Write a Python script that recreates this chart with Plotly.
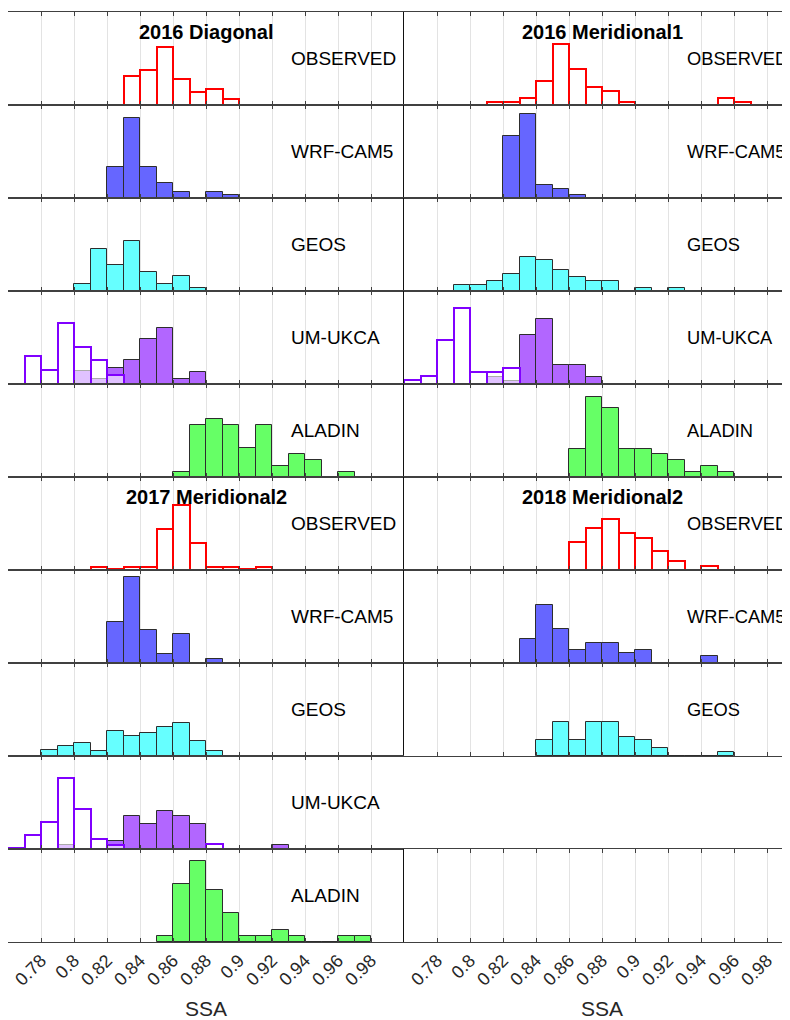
import plotly.graph_objects as go
from plotly.subplots import make_subplots

# SSA histograms, 0.01 wide bins. Each series: (left edge of first bin, bar heights in %)
BIN_WIDTH = 0.01

OBS_2016_DIAG = (0.83, [15.4, 19.0, 31.3, 14.0, 7.2, 8.4, 3.2])
WRF_2016_DIAG = (0.82, [16.5, 43.0, 16.5, 8.2, 3.1, 0, 3.1, 1.6])
GEOS_2016_DIAG = (0.80, [4.0, 22.4, 14.2, 26.7, 10.4, 4.0, 8.1, 1.8])
UMH_2016_DIAG = (0.77, [15.1, 7.5, 32.8, 20.1, 12.9, 5.0])
UMF_2016_DIAG = (0.80, [6.8, 2.5, 8.8, 12.9, 24.0, 30.3, 2.5, 6.5])
ALADIN_2016_DIAG = (0.86, [2.9, 28.0, 31.4, 28.0, 15.4, 28.0, 5.9, 12.2, 9.0, 0, 2.9])

OBS_2016_MER1 = (0.81, [1.8, 1.8, 3.6, 13.1, 32.6, 19.2, 9.5, 7.7, 1.8, 0, 0, 0, 0, 0, 3.6, 1.8])
WRF_2016_MER1 = (0.82, [33.2, 45.3, 7.2, 5.0, 1.4])
GEOS_2016_MER1 = (0.79, [3.4, 3.4, 5.6, 9.3, 18.5, 16.8, 11.1, 7.3, 5.6, 5.6, 0, 1.8, 0, 1.8])
UMH_2016_MER1 = (0.76, [2.3, 4.3, 23.7, 40.7, 6.6, 6.6, 8.6])
UMF_2016_MER1 = (0.81, [3.9, 1.8, 26.5, 34.9, 10.0, 10.0, 3.6])
ALADIN_2016_MER1 = (0.86, [15.2, 42.8, 36.9, 15.2, 15.2, 12.2, 9.0, 2.9, 5.9, 2.9])

OBS_2017_MER2 = (0.81, [1.8, 0.5, 1.8, 1.8, 22.2, 34.8, 14.5, 1.8, 1.8, 0.5, 1.8])
WRF_2017_MER2 = (0.82, [22.2, 46.2, 17.7, 4.7, 15.4, 0, 2.2])
GEOS_2017_MER2 = (0.78, [3.2, 5.4, 7.0, 2.7, 13.4, 10.8, 12.4, 15.6, 17.7, 8.1, 2.7])
UMH_2017_MER2 = (0.76, [0.3, 7.3, 14.5, 38.2, 21.5, 5.2, 2.2, 0, 0, 0, 0, 0, 2.7])
UMF_2017_MER2 = (0.79, [2.2, 0, 0, 4.5, 17.9, 13.6, 20.3, 17.9, 13.6, 0, 0, 0, 0, 2.2])
ALADIN_2017_MER2 = (0.85, [3.4, 31.4, 43.7, 28.1, 15.8, 3.4, 3.4, 6.3, 3.4, 0, 0, 3.4, 3.4])

OBS_2018_MER2 = (0.86, [15.1, 22.4, 27.2, 20.1, 17.2, 10.0, 5.0, 0, 2.3, 0, 0, 0, 0, 2.3])
WRF_2018_MER2 = (0.83, [12.7, 31.2, 18.3, 7.2, 10.9, 10.9, 5.6, 7.2, 0, 0, 0, 3.9])
GEOS_2018_MER2 = (0.84, [8.4, 18.1, 8.4, 18.1, 18.1, 10.2, 8.4, 4.3, 0, 0, 0, 2.3])

CAMPAIGNS = ["2016 Diagonal", "2016 Meridional1", "2017 Meridional2", "2018 Meridional2"]
MODELS = ["OBSERVED", "WRF-CAM5", "GEOS", "UM-UKCA", "ALADIN"]

TICKS = [0.78, 0.8, 0.82, 0.84, 0.86, 0.88, 0.9, 0.92, 0.94, 0.96, 0.98]
TICK_LABELS = ["0.78", "0.8", "0.82", "0.84", "0.86", "0.88", "0.9", "0.92", "0.94", "0.96", "0.98"]

# (row, col) -> list of (series, style)
PANELS = {
    (1, 1): [(OBS_2016_DIAG, "obs")],
    (2, 1): [(WRF_2016_DIAG, "wrf")],
    (3, 1): [(GEOS_2016_DIAG, "geos")],
    (4, 1): [(UMF_2016_DIAG, "umf"), (UMH_2016_DIAG, "umh")],
    (5, 1): [(ALADIN_2016_DIAG, "aladin")],
    (1, 2): [(OBS_2016_MER1, "obs")],
    (2, 2): [(WRF_2016_MER1, "wrf")],
    (3, 2): [(GEOS_2016_MER1, "geos")],
    (4, 2): [(UMF_2016_MER1, "umf"), (UMH_2016_MER1, "umh")],
    (5, 2): [(ALADIN_2016_MER1, "aladin")],
    (6, 1): [(OBS_2017_MER2, "obs")],
    (7, 1): [(WRF_2017_MER2, "wrf")],
    (8, 1): [(GEOS_2017_MER2, "geos")],
    (9, 1): [(UMF_2017_MER2, "umf"), (UMH_2017_MER2, "umh")],
    (10, 1): [(ALADIN_2017_MER2, "aladin")],
    (6, 2): [(OBS_2018_MER2, "obs")],
    (7, 2): [(WRF_2018_MER2, "wrf")],
    (8, 2): [(GEOS_2018_MER2, "geos")],
}

EDGE = "rgb(45,45,45)"
STYLES = {
    "obs": dict(color="rgba(255,255,255,0.6)", line=dict(color="rgb(255,0,0)", width=2)),
    "wrf": dict(color="rgb(102,102,255)", line=dict(color=EDGE, width=1)),
    "geos": dict(color="rgb(102,255,255)", line=dict(color=EDGE, width=1)),
    "umf": dict(color="rgb(178,102,255)", line=dict(color=EDGE, width=1)),
    "umh": dict(color="rgba(255,255,255,0.6)", line=dict(color="rgb(128,0,255)", width=2)),
    "aladin": dict(color="rgb(102,255,102)", line=dict(color=EDGE, width=1)),
}

FONT = "Liberation Sans, Arial, Helvetica, sans-serif"

fig = make_subplots(rows=10, cols=2, vertical_spacing=0, horizontal_spacing=0,
                    column_widths=[396, 386])

for (r, c), series in PANELS.items():
    for (start, vals), style in series:
        fig.add_trace(go.Bar(x0=start, dx=BIN_WIDTH, y=vals, width=BIN_WIDTH, offset=0,
                             marker=STYLES[style], showlegend=False, hoverinfo="skip"),
                      row=r, col=c)

annotations = []
for r in range(1, 11):
    for c in (1, 2):
        idx = (r - 1) * 2 + c
        xr = "x" if idx == 1 else f"x{idx}"
        yr = "y" if idx == 1 else f"y{idx}"
        xmax = 1.0 if c == 1 else 0.76 + 386 / 1650
        fig.update_xaxes(row=r, col=c, range=[0.76, xmax], tickvals=TICKS, ticktext=TICK_LABELS,
                         showticklabels=(r == 10), tickangle=-45,
                         tickfont=dict(size=18, color="#262626", family=FONT),
                         ticks="inside", ticklen=4, tickcolor="#404040", mirror="ticks",
                         showline=True, linecolor="#404040", linewidth=1,
                         showgrid=True, gridcolor="#e3e3e3", gridwidth=1, zeroline=False)
        fig.update_yaxes(row=r, col=c, range=[0, 50], showticklabels=False, ticks="",
                         showgrid=False, zeroline=False,
                         showline=(c == 2), linecolor="#111111", linewidth=1)
        block = 0 if r <= 5 else 1
        if not (block == 1 and c == 2 and r > 8):
            # right column labels run into the window edge, keep them a touch smaller
            size = 19 if c == 1 else 18.3
            annotations.append(dict(text=MODELS[(r - 1) % 5], x=0.9303, y=0.5, xref=xr,
                                    yref=f"{yr} domain", xanchor="left", yanchor="middle",
                                    showarrow=False, font=dict(size=size, color="black", family=FONT)))
        if r in (1, 6):
            annotations.append(dict(text=f"<b>{CAMPAIGNS[block * 2 + c - 1]}</b>", x=0.88, y=0.785,
                                    xref=xr, yref=f"{yr} domain", xanchor="center", yanchor="middle",
                                    showarrow=False, font=dict(size=20, color="black", family=FONT)))
        if r == 10:
            annotations.append(dict(text="SSA", x=0.88, y=-0.071, xref=xr, yref="paper",
                                    xanchor="center", yanchor="middle", showarrow=False,
                                    font=dict(size=21, color="#262626", family=FONT)))

# page body adds an 8px margin, so the figure is sized to fill the rest of the window
fig.update_layout(
    width=782, height=1012,
    margin=dict(l=0, r=0, t=4, b=78),
    barmode="overlay", bargap=0,
    plot_bgcolor="white", paper_bgcolor="white",
    annotations=annotations,
)

fig.write_html("out.html")
